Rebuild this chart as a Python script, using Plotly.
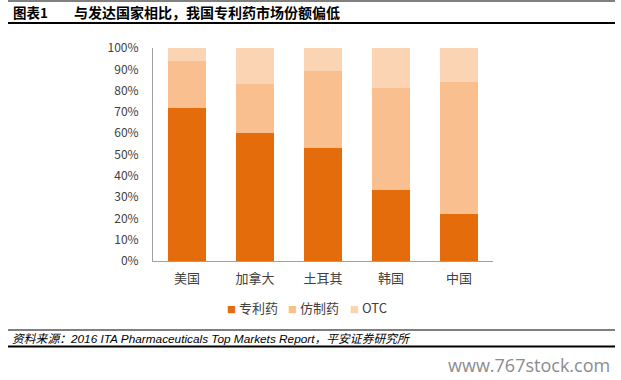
import plotly.graph_objects as go

categories = ["美国", "加拿大", "土耳其", "韩国", "中国"]
patent = [0.72, 0.60, 0.53, 0.335, 0.22]
generic = [0.22, 0.23, 0.36, 0.475, 0.62]
otc = [0.06, 0.17, 0.11, 0.19, 0.16]
series_names = ["专利药", "仿制药", "OTC"]
colors = ["#E46C0A", "#F9BF8F", "#FBD4B4"]

W, H = 621, 380
L, R, T, B = 153, 493, 48, 261

def px(x):
    return (x - L) / (R - L)

def py(y):
    return (B - y) / (B - T)

FONT = "Noto Sans CJK SC"

fig = go.Figure()
for name, vals, c in zip(series_names, [patent, generic, otc], colors):
    fig.add_trace(go.Bar(x=categories, y=vals, name=name, marker=dict(color=c, line=dict(width=0))))

fig.update_layout(
    width=W, height=H,
    margin=dict(l=L, r=W - R, t=T, b=H - B),
    barmode="stack", bargap=0.43,
    plot_bgcolor="white", paper_bgcolor="white",
    font=dict(family=FONT, color="#404040"),
    showlegend=False,
    xaxis=dict(showline=True, linecolor="#A0A0A0", linewidth=1, ticks="", ticklabelstandoff=5,
               tickfont=dict(size=13, color="#404040", family=FONT), fixedrange=True),
    yaxis=dict(range=[0, 1], tickvals=[i / 10 for i in range(11)], tickformat=".0%",
               showgrid=False, zeroline=False, showline=True, linecolor="#A0A0A0", linewidth=1,
               ticks="", ticklabelstandoff=11,
               tickfont=dict(size=12, color="#404040", family=FONT)),
)

shapes = [
    dict(type="line", xref="paper", yref="paper", x0=px(8), x1=px(615), y0=py(1), y1=py(1),
         line=dict(color="black", width=1)),
    dict(type="line", xref="paper", yref="paper", x0=px(8), x1=px(615), y0=py(23), y1=py(23),
         line=dict(color="black", width=2)),
    dict(type="line", xref="paper", yref="paper", x0=px(8), x1=px(615), y0=py(330), y1=py(330),
         line=dict(color="black", width=1)),
    dict(type="line", xref="paper", yref="paper", x0=px(8), x1=px(615), y0=py(346.5), y1=py(346.5),
         line=dict(color="black", width=2)),
]
fig.update_layout(shapes=shapes)

# legend entries (square swatch + name), laid out like the reference legend
legend_x = [225, 286, 348]
annotations = []
for name, c, lx in zip(series_names, colors, legend_x):
    annotations.append(dict(
        text=f"<span style='color:{c};font-size:9px'>■</span> {name}",
        xref="paper", yref="paper", x=px(lx), y=py(307), xanchor="left", yanchor="middle",
        showarrow=False, font=dict(size=13, color="#404040", family=FONT)))

annotations += [
    dict(text="<b>图表1</b>", xref="paper", yref="paper", x=px(11), y=py(12), xanchor="left",
         yanchor="middle", showarrow=False, font=dict(size=13.5, color="black", family=FONT)),
    dict(text="<b>与发达国家相比，我国专利药市场份额偏低</b>", xref="paper", yref="paper", x=px(72), y=py(12),
         xanchor="left", yanchor="middle", showarrow=False, font=dict(size=14, color="black", family=FONT)),
    dict(text="<i>资料来源：2016 ITA Pharmaceuticals Top Markets Report，平安证券研究所</i>", xref="paper",
         yref="paper", x=px(10), y=py(338.5), xanchor="left", yanchor="middle", showarrow=False,
         font=dict(size=11.8, color="black", family="Liberation Sans, " + FONT)),
    dict(text="www.767stock.com", xref="paper", yref="paper", x=px(612), y=py(365), xanchor="right",
         yanchor="middle", showarrow=False, font=dict(size=18, color="#8C8C8C", family="Open Sans")),
]
fig.update_layout(annotations=annotations)

fig.write_html("out.html", config={"displayModeBar": False},
               post_script="document.body.style.margin='0';document.body.style.overflow='hidden';")
